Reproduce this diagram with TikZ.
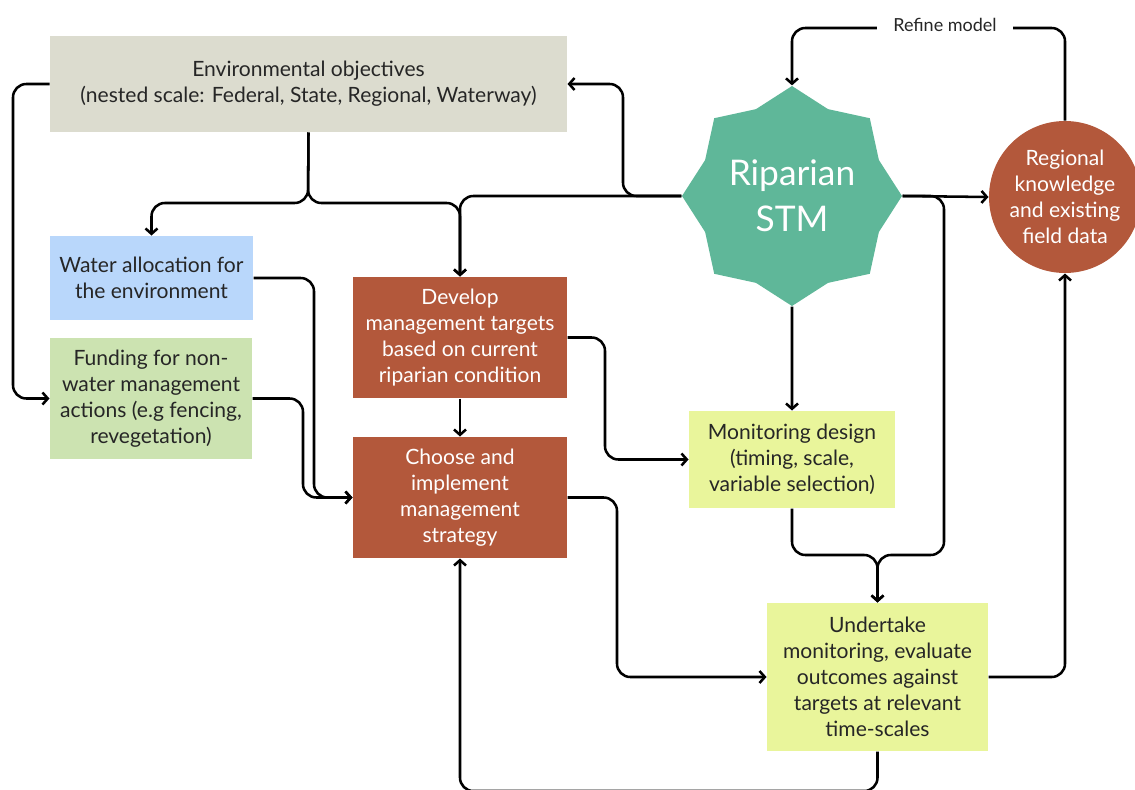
\documentclass[tikz,border=0pt]{standalone}
\usepackage{fontspec}
\setmainfont{Lato}
\usetikzlibrary{shapes.geometric,arrows.meta}

\definecolor{objgrey}{RGB}{220,220,207}
\definecolor{waterblue}{RGB}{185,215,251}
\definecolor{fundgreen}{RGB}{204,227,177}
\definecolor{rust}{RGB}{179,88,59}
\definecolor{monyellow}{RGB}{233,245,155}
\definecolor{stmgreen}{RGB}{95,183,153}
\definecolor{inkdark}{RGB}{38,38,38}

\tikzset{every picture/.style={line width=0.75pt}}
\tikzset{
  box/.style={rectangle, inner sep=0pt, align=center, text=inkdark, font=\fontsize{15.8}{19.5}\selectfont},
  rustbox/.style={box, fill=rust, text=white},
  link/.style={draw=black, line width=1.9pt, rounded corners=10pt, -{Straight Barb[length=4pt,width=9pt]}},
}

\begin{document}
\begin{tikzpicture}[x=0.75pt,y=0.75pt,yscale=-1,xscale=1]
		\useasboundingbox (0,0) rectangle (1135,789);

		% Boxes
		\node[box, fill=objgrey, minimum width=387.75pt, minimum height=72pt] (env) at (308.5,84) {Environmental objectives\\(nested scale: Federal, State, Regional, Waterway)};
		\node[box, fill=waterblue, minimum width=152.25pt, minimum height=63pt] (water) at (151.5,278) {Water allocation for\\the environment};
		\node[box, fill=fundgreen, minimum width=151.5pt, minimum height=90.75pt] (fund) at (151,398.5) {Funding for non-\\water management\\actions (e.g fencing,\\revegetation)};
		\node[rustbox, minimum width=160.5pt, minimum height=90.75pt] (dev) at (460,337.5) {Develop\\management targets\\based on current\\riparian condition};
		\node[rustbox, minimum width=160.5pt, minimum height=90.75pt] (choose) at (460,497.5) {Choose and\\implement\\management\\strategy};
		\node[box, fill=monyellow, minimum width=154.5pt, minimum height=72.75pt] (mon) at (792,459.5) {Monitoring design\\(timing, scale,\\variable selection)};
		\node[box, fill=monyellow, minimum width=165.75pt, minimum height=111pt] (under) at (877.5,677) {Undertake\\monitoring, evaluate\\outcomes against\\targets at relevant\\time-scales};

		% Star and circle
		\node[star, star points=8, star point ratio=1.17, minimum size=165pt, inner sep=0pt, fill=stmgreen, text=white, align=center, font=\fontsize{26.5}{34.5}\selectfont] (stm) at (792,196) {Riparian\\STM};
		\node[circle, minimum size=114pt, inner sep=0pt, fill=rust, text=white, align=center, font=\fontsize{15.8}{19.5}\selectfont] (reg) at (1065,197) {Regional\\knowledge\\and existing\\field data};

		% Connectors
		\draw[link] (env.west) -- (13,84) |- (fund.west);
		\draw[link] (env.south) -- (308,203) -| (water.north);
		\draw[link] (env.south) -- (308,203) -| (dev.north);
		\draw[link] (stm.west) -- (623,196) |- (env.east);
		\draw[link] (stm.west) -| (dev.north);
		\draw[link] (dev.south) -- (choose.north);
		\draw[link] (water.east) -- (314,278) |- (choose.west);
		\draw[link] (fund.east) -- (303,398.5) |- (choose.west);
		\draw[link] (dev.east) -- (605,337.5) |- (mon.west);
		\draw[link] (choose.east) -- (617,497.5) |- (under.west);
		\draw[link] (stm.south) -- (mon.north);
		\draw[link] (mon.south) -- (792,555) -| (under.north);
		\draw[link] (stm.east) -- (944,196) -- (944,555) -| (under.north);
		\draw[link] (stm.east) -- (reg.west);
		\draw[link] (under.east) -| (reg.south);
		\draw[link] (under.south) -- (877.5,791) -| (choose.south);
		\draw[link] (reg.north) -- (1065,28) -| (stm.north);

		% Text Node
		\node[fill=white, inner xsep=12pt, inner ysep=4pt, text=inkdark, font=\fontsize{13.5}{16}\selectfont] (refine) at (945,25) {Refine model};

\end{tikzpicture}
\end{document}
